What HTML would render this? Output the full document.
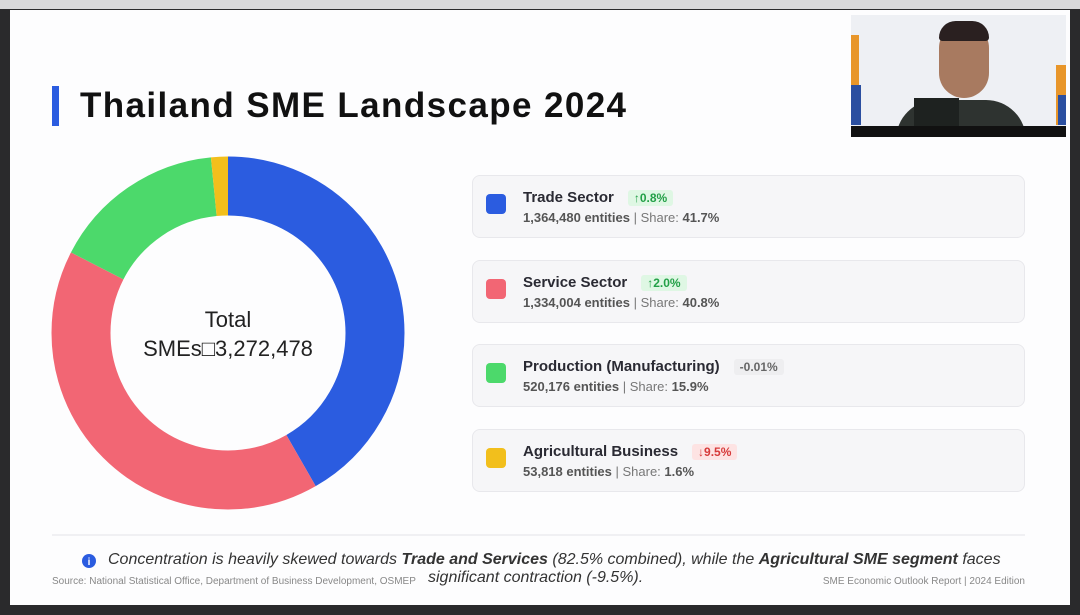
<!DOCTYPE html>
<html><head><meta charset="utf-8"><style>
*{margin:0;padding:0;box-sizing:border-box}
body{width:1080px;height:615px;background:#2a2a2c;position:relative;overflow:hidden;font-family:"Liberation Sans",sans-serif}
.top{position:absolute;left:0;top:0;width:1080px;height:9px;background:#d8d8da}
.slide{position:absolute;left:10px;top:10px;width:1060px;height:595px;background:#fdfdfe}
.title{position:absolute;left:52px;top:86px;height:40px;border-left:7px solid #2b5ce0;padding-left:21px;font-size:35px;font-weight:bold;color:#111;line-height:40px;letter-spacing:1.4px}
.card{position:absolute;left:472px;width:553px;height:63px;background:#f6f6f8;border:1px solid #e8e8ec;border-radius:8px}
.sw{position:absolute;left:13px;top:18px;width:20px;height:20px;border-radius:4px}
.nm{position:absolute;left:50px;top:13px;font-size:15px;font-weight:bold;color:#2a2a33}
.bd{display:inline-block;margin-left:14px;padding:1px 6px;font-size:12px;font-weight:bold;border-radius:3px}
.sub{position:absolute;left:50px;top:34px;font-size:13px;color:#555;font-weight:bold}
.sub span{font-weight:normal;color:#777}
.cam{position:absolute;left:851px;top:15px;width:215px;height:122px;background:#eef0f4;overflow:hidden}
</style></head><body>
<div class="top"></div>
<div class="slide"></div>
<div class="title">Thailand SME Landscape 2024</div>
<svg style="position:absolute;left:0;top:0" width="1080" height="615">
<g transform="rotate(-90 228 333)">
<circle cx="228" cy="333" r="147" fill="none" stroke="#2b5ce0" stroke-width="59" stroke-dasharray="385.2 1000" stroke-dashoffset="0"/>
<circle cx="228" cy="333" r="147" fill="none" stroke="#f26674" stroke-width="59" stroke-dasharray="376.9 1000" stroke-dashoffset="-385.2"/>
<circle cx="228" cy="333" r="147" fill="none" stroke="#4cd96b" stroke-width="59" stroke-dasharray="146.9 1000" stroke-dashoffset="-762.1"/>
<circle cx="228" cy="333" r="147" fill="none" stroke="#f2bf1c" stroke-width="59" stroke-dasharray="14.8 1000" stroke-dashoffset="-909"/>
</g>
<text x="228" y="327" text-anchor="middle" font-size="22" fill="#222" font-family="Liberation Sans">Total</text>
<text x="228" y="356" text-anchor="middle" font-size="22" fill="#222" font-family="Liberation Sans">SMEs□3,272,478</text>
<line x1="52" y1="535" x2="1025" y2="535" stroke="#e4e4e8"/>
<circle cx="89" cy="561" r="7" fill="#2b5ce0"/><text x="89" y="565" text-anchor="middle" font-size="10" fill="#fff" font-weight="bold">i</text>
</svg>
<div class="card" style="top:175px"><div class="sw" style="background:#2b5ce0"></div><div class="nm">Trade Sector<span class="bd" style="background:#dff7e4;color:#23a047">↑0.8%</span></div><div class="sub">1,364,480 entities <span>| Share:</span> 41.7%</div></div>
<div class="card" style="top:260px"><div class="sw" style="background:#f26674"></div><div class="nm">Service Sector<span class="bd" style="background:#dff7e4;color:#23a047">↑2.0%</span></div><div class="sub">1,334,004 entities <span>| Share:</span> 40.8%</div></div>
<div class="card" style="top:344px"><div class="sw" style="background:#4cd96b"></div><div class="nm">Production (Manufacturing)<span class="bd" style="background:#eeeef0;color:#666">-0.01%</span></div><div class="sub">520,176 entities <span>| Share:</span> 15.9%</div></div>
<div class="card" style="top:429px"><div class="sw" style="background:#f2bf1c"></div><div class="nm">Agricultural Business<span class="bd" style="background:#fde3e3;color:#d63a3a">↓9.5%</span></div><div class="sub">53,818 entities <span>| Share:</span> 1.6%</div></div>
<div style="position:absolute;left:108px;top:551px;font-size:16px;font-style:italic;color:#333;white-space:nowrap">Concentration is heavily skewed towards <b>Trade and Services</b> (82.5% combined), while the <b>Agricultural SME segment</b> faces</div>
<div style="position:absolute;left:428px;top:569px;font-size:16px;font-style:italic;color:#333">significant contraction (-9.5%).</div>
<div style="position:absolute;left:52px;top:576px;font-size:10px;color:#888">Source: National Statistical Office, Department of Business Development, OSMEP</div>
<div style="position:absolute;right:55px;top:576px;font-size:10px;color:#888">SME Economic Outlook Report | 2024 Edition</div>
<div class="cam">
<div style="position:absolute;left:0;top:20px;width:8px;height:80px;background:#e8962a"></div>
<div style="position:absolute;left:0;top:70px;width:10px;height:40px;background:#2b4fa0"></div>
<div style="position:absolute;right:0;top:50px;width:10px;height:60px;background:#e8962a"></div>
<div style="position:absolute;right:0;top:80px;width:8px;height:30px;background:#2b4fa0"></div>
<div style="position:absolute;left:45px;top:85px;width:130px;height:40px;border-radius:40px 40px 0 0;background:#2e3330"></div>
<div style="position:absolute;left:88px;top:8px;width:50px;height:75px;border-radius:25px;background:#a87a60"></div>
<div style="position:absolute;left:88px;top:6px;width:50px;height:20px;border-radius:25px 25px 5px 5px;background:#2a2020"></div>
<div style="position:absolute;left:63px;top:83px;width:45px;height:28px;background:#1e2220"></div>
<div style="position:absolute;left:0;top:111px;width:215px;height:11px;background:#111"></div>
</div>
</body></html>
